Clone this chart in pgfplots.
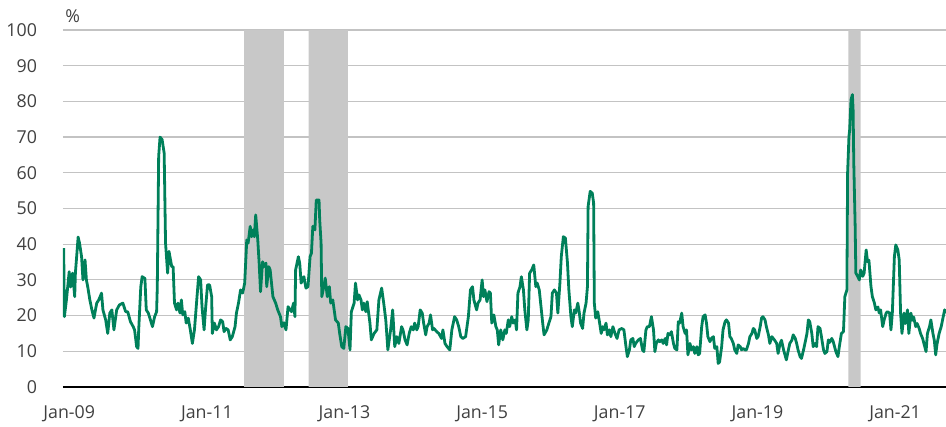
\documentclass[border=0pt]{standalone}
\usepackage{fontspec}
\setmainfont{Open Sans}
\usepackage{pgfplots}
\pgfplotsset{compat=1.18}
\definecolor{vgreen}{RGB}{0,128,90}
\definecolor{bandgray}{RGB}{200,200,200}
\definecolor{gridc}{RGB}{195,195,195}
\definecolor{txt}{RGB}{64,64,64}

\begin{document}
\begin{tikzpicture}
\begin{axis}[
  scale only axis,
  width=441.5pt, height=178.5pt,
  xmin=2008.91, xmax=2021.74,
  ymin=0, ymax=100,
  ytick={0,10,...,100},
  xtick={2009,2011,2013,2015,2017,2019,2021},
  xticklabels={Jan-09,Jan-11,Jan-13,Jan-15,Jan-17,Jan-19,Jan-21},
  ymajorgrids,
  grid style={gridc, line width=0.6pt},
  axis line style={draw=none},
  major tick length=0pt,
  tick label style={font=\fontsize{8.9}{10}\selectfont, text=txt},
  /pgf/number format/assume math mode=true,
  yticklabel style={xshift=-9.5pt},
  xticklabel style={yshift=-6pt},
  extra y ticks={0},
  extra y tick labels={},
  extra y tick style={grid style={black, line width=0.7pt}},
]
% shaded periods
\addplot[fill=bandgray, draw=none] coordinates {(2011.54,0.3) (2011.54,100) (2012.12,100) (2012.12,0.3)} \closedcycle;
\addplot[fill=bandgray, draw=none] coordinates {(2012.48,0.3) (2012.48,100) (2013.05,100) (2013.05,0.3)} \closedcycle;
\addplot[fill=bandgray, draw=none] coordinates {(2020.32,0.3) (2020.32,100) (2020.50,100) (2020.50,0.3)} \closedcycle;

\addplot[vgreen, line width=1.4pt, line join=round] table {
2008.92 38.9
2008.93 19.7
2008.96 24.4
2009.00 32.3
2009.02 28.0
2009.05 31.9
2009.08 25.3
2009.09 31.9
2009.13 42.0
2009.15 40.3
2009.18 36.5
2009.20 30.0
2009.23 35.6
2009.25 30.0
2009.27 28.0
2009.30 24.4
2009.33 21.6
2009.36 19.3
2009.40 23.5
2009.43 24.4
2009.47 26.3
2009.49 21.6
2009.53 18.8
2009.56 15.0
2009.59 20.7
2009.62 21.6
2009.65 16.0
2009.69 21.6
2009.73 23.0
2009.78 23.5
2009.82 21.1
2009.85 21.1
2009.89 18.3
2009.93 16.9
2009.95 16.0
2009.98 11.3
2010.00 10.8
2010.01 16.0
2010.04 28.0
2010.06 30.9
2010.10 30.4
2010.12 21.6
2010.15 20.7
2010.18 18.8
2010.21 16.9
2010.24 19.6
2010.27 21.1
2010.28 28.0
2010.30 64.6
2010.32 70.0
2010.35 69.3
2010.38 65.5
2010.40 40.3
2010.43 31.9
2010.45 38.0
2010.49 33.7
2010.51 33.7
2010.53 23.5
2010.56 21.6
2010.58 23.5
2010.61 20.7
2010.63 24.4
2010.65 20.2
2010.68 21.1
2010.70 17.9
2010.73 19.3
2010.76 16.0
2010.79 12.2
2010.82 16.0
2010.85 23.5
2010.88 30.9
2010.91 30.0
2010.93 22.5
2010.96 16.0
2010.98 21.6
2011.01 28.6
2011.04 28.6
2011.07 25.3
2011.08 15.0
2011.11 17.9
2011.14 16.0
2011.17 16.9
2011.20 18.8
2011.23 18.3
2011.25 15.5
2011.28 16.4
2011.31 16.0
2011.34 13.2
2011.37 14.1
2011.41 16.9
2011.43 20.7
2011.46 23.5
2011.49 27.2
2011.52 26.3
2011.55 29.1
2011.58 41.2
2011.60 40.3
2011.63 45.0
2011.65 42.1
2011.67 44.0
2011.69 42.1
2011.71 48.2
2011.74 41.2
2011.76 34.7
2011.78 26.7
2011.81 35.1
2011.83 33.7
2011.86 34.7
2011.87 28.1
2011.90 33.7
2011.92 32.8
2011.96 25.3
2012.00 23.5
2012.03 21.6
2012.07 19.7
2012.09 16.9
2012.12 18.0
2012.15 16.0
2012.18 22.5
2012.23 21.1
2012.26 23.5
2012.28 19.7
2012.29 32.8
2012.33 36.5
2012.35 34.6
2012.37 29.1
2012.41 30.9
2012.44 27.7
2012.47 28.1
2012.50 36.5
2012.52 37.5
2012.54 45.0
2012.57 44.0
2012.59 52.4
2012.63 52.4
2012.64 46.8
2012.66 40.3
2012.67 25.3
2012.70 28.1
2012.72 30.5
2012.75 25.3
2012.78 28.1
2012.80 23.5
2012.83 24.4
2012.85 21.6
2012.87 18.8
2012.91 17.9
2012.93 15.0
2012.96 11.3
2012.99 10.8
2013.02 16.9
2013.05 16.4
2013.08 10.4
2013.10 21.1
2013.14 23.5
2013.16 29.1
2013.19 24.4
2013.21 25.8
2013.24 24.4
2013.26 21.6
2013.28 23.5
2013.31 21.1
2013.33 23.9
2013.37 17.9
2013.39 13.2
2013.43 15.0
2013.47 16.0
2013.50 24.4
2013.54 27.7
2013.57 23.5
2013.60 18.8
2013.63 10.4
2013.67 16.0
2013.70 21.6
2013.73 11.3
2013.76 14.1
2013.79 12.2
2013.83 16.9
2013.85 16.0
2013.88 13.2
2013.91 11.8
2013.94 15.0
2013.97 16.9
2014.00 16.0
2014.02 17.9
2014.05 16.0
2014.07 16.9
2014.10 21.6
2014.13 20.7
2014.15 17.9
2014.18 14.6
2014.20 16.9
2014.23 17.9
2014.25 20.2
2014.28 16.0
2014.30 16.4
2014.34 15.5
2014.37 15.0
2014.41 13.6
2014.43 16.0
2014.46 12.2
2014.49 11.3
2014.53 10.4
2014.56 16.0
2014.60 19.7
2014.63 18.8
2014.66 16.9
2014.69 14.1
2014.72 13.6
2014.76 14.1
2014.80 19.7
2014.83 27.2
2014.86 28.1
2014.88 24.4
2014.92 21.6
2014.94 23.5
2014.97 24.4
2015.00 30.0
2015.02 25.3
2015.04 27.2
2015.07 23.9
2015.10 26.7
2015.12 26.3
2015.14 17.9
2015.17 20.2
2015.20 16.9
2015.22 16.0
2015.24 11.8
2015.27 16.0
2015.30 13.2
2015.33 16.0
2015.35 15.0
2015.38 18.8
2015.40 16.9
2015.43 19.7
2015.45 17.9
2015.48 18.8
2015.50 16.0
2015.52 26.3
2015.55 28.1
2015.57 30.9
2015.60 27.2
2015.62 21.6
2015.65 16.0
2015.67 18.8
2015.69 31.9
2015.72 32.8
2015.75 34.2
2015.78 28.1
2015.80 29.1
2015.83 27.2
2015.85 23.5
2015.88 17.9
2015.90 14.6
2015.94 16.0
2015.97 17.9
2016.00 19.7
2016.02 26.3
2016.05 27.2
2016.08 26.3
2016.10 20.7
2016.13 29.1
2016.15 36.5
2016.18 42.1
2016.21 41.7
2016.24 34.7
2016.26 27.2
2016.29 19.7
2016.31 16.9
2016.34 21.6
2016.36 20.7
2016.39 23.5
2016.41 21.1
2016.43 17.9
2016.46 16.4
2016.48 20.7
2016.51 23.5
2016.53 28.1
2016.54 50.6
2016.57 54.8
2016.60 54.3
2016.62 51.5
2016.63 23.5
2016.65 19.3
2016.68 21.1
2016.70 18.8
2016.73 15.0
2016.75 16.9
2016.77 16.0
2016.80 17.9
2016.82 14.6
2016.85 16.0
2016.87 14.1
2016.90 16.9
2016.93 15.0
2016.96 13.6
2016.99 16.0
2017.03 16.4
2017.06 16.0
2017.09 11.3
2017.11 8.5
2017.14 10.4
2017.16 13.2
2017.19 13.6
2017.21 11.3
2017.23 12.2
2017.27 13.2
2017.30 13.6
2017.33 10.4
2017.35 9.9
2017.38 16.0
2017.40 16.9
2017.43 16.9
2017.46 19.7
2017.49 16.0
2017.51 9.9
2017.53 12.2
2017.56 13.2
2017.58 12.7
2017.61 13.2
2017.63 12.2
2017.66 13.6
2017.68 11.8
2017.70 15.0
2017.73 14.6
2017.75 15.5
2017.78 12.2
2017.80 10.8
2017.83 10.4
2017.85 18.3
2017.87 17.9
2017.90 20.7
2017.92 16.9
2017.95 15.0
2017.97 16.0
2017.99 9.0
2018.02 12.2
2018.04 10.4
2018.07 11.3
2018.09 9.4
2018.12 11.3
2018.14 9.0
2018.16 9.4
2018.19 16.9
2018.21 19.7
2018.24 20.2
2018.26 17.9
2018.28 14.1
2018.31 12.7
2018.33 13.6
2018.36 14.1
2018.38 10.8
2018.41 11.3
2018.43 6.6
2018.45 7.0
2018.48 11.3
2018.50 16.0
2018.53 18.3
2018.55 18.8
2018.58 17.9
2018.60 14.1
2018.62 13.6
2018.65 12.2
2018.67 10.4
2018.70 9.4
2018.72 11.8
2018.75 11.3
2018.77 10.4
2018.79 10.8
2018.82 10.4
2018.84 10.4
2018.87 12.2
2018.89 14.1
2018.92 15.0
2018.94 16.4
2018.96 16.0
2018.99 13.6
2019.01 14.1
2019.04 16.9
2019.06 19.3
2019.08 19.7
2019.11 18.8
2019.13 16.9
2019.16 14.6
2019.18 12.2
2019.21 14.1
2019.23 13.6
2019.25 13.1
2019.28 12.2
2019.30 9.4
2019.33 12.2
2019.35 13.1
2019.38 10.4
2019.40 9.0
2019.42 7.6
2019.45 10.4
2019.47 12.2
2019.50 13.1
2019.52 14.6
2019.55 13.6
2019.57 12.2
2019.59 10.4
2019.62 8.5
2019.64 8.0
2019.67 10.4
2019.69 12.2
2019.72 15.0
2019.74 18.8
2019.76 18.3
2019.79 15.0
2019.81 11.3
2019.84 12.2
2019.86 11.3
2019.88 16.9
2019.91 16.4
2019.93 14.1
2019.96 10.4
2019.98 9.4
2020.01 9.9
2020.03 13.2
2020.05 12.5
2020.08 13.6
2020.10 12.8
2020.14 9.9
2020.17 8.5
2020.19 11.3
2020.22 15.0
2020.25 15.5
2020.27 25.3
2020.30 27.2
2020.31 59.9
2020.33 70.2
2020.34 72.0
2020.36 80.5
2020.38 81.9
2020.39 77.7
2020.40 62.7
2020.42 45.0
2020.43 31.9
2020.46 30.9
2020.48 30.0
2020.50 32.8
2020.53 31.0
2020.55 31.9
2020.58 38.4
2020.60 35.1
2020.62 35.5
2020.65 28.1
2020.67 25.3
2020.70 23.5
2020.72 21.6
2020.75 22.4
2020.77 20.7
2020.79 21.6
2020.82 16.9
2020.84 18.7
2020.87 20.7
2020.89 21.1
2020.92 20.7
2020.94 16.0
2020.96 20.7
2020.99 36.5
2021.01 39.8
2021.04 38.4
2021.06 35.6
2021.08 20.7
2021.10 15.0
2021.13 20.7
2021.15 17.8
2021.18 21.6
2021.20 15.0
2021.23 20.7
2021.25 18.7
2021.27 19.6
2021.30 16.9
2021.32 17.8
2021.35 16.4
2021.37 15.0
2021.40 13.6
2021.42 12.1
2021.45 9.9
2021.47 15.0
2021.50 16.9
2021.52 18.8
2021.55 15.0
2021.57 13.1
2021.59 9.0
2021.61 12.1
2021.64 15.0
2021.67 16.9
2021.69 18.8
2021.72 21.6
2021.74 20.7
};
\end{axis}
\node[anchor=base west, inner sep=0pt, font=\fontsize{8.9}{10}\selectfont, text=txt] at ([xshift=1pt, yshift=3.5pt]current axis.north west) {\%};
\pgfresetboundingbox
\path[use as bounding box] (-31.5pt,-20pt) rectangle (441.5pt,193.5pt);
\end{tikzpicture}
\end{document}
